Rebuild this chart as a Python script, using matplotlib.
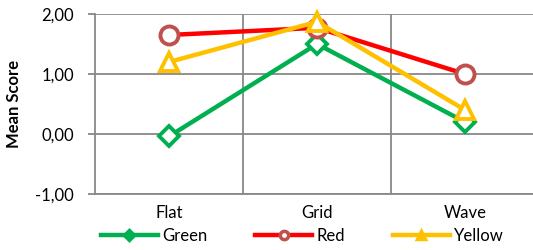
import numpy as np
import matplotlib.pyplot as plt
from matplotlib.lines import Line2D
from matplotlib.ticker import FuncFormatter

plt.rcParams['font.family'] = ['Lato', 'DejaVu Sans']

categories = ['Flat', 'Grid', 'Wave']
green = [-0.04, 1.50, 0.20]
red = [1.65, 1.77, 1.00]
yellow = [1.20, 1.87, 0.40]

fig = plt.figure(figsize=(5.33, 2.5), dpi=100)
ax = fig.add_axes([95 / 533, 56 / 250, 444 / 533, 180 / 250])

x = np.arange(len(categories))

series = [
    ('Green', green, '#00B050', '#00B050', 'D', 10),
    ('Red', red, '#FF0000', '#C0504D', 'o', 13),
    ('Yellow', yellow, '#FFC000', '#FFC000', '^', 13),
]

handles = []
for name, vals, lc, mc, mk, ms in series:
    ax.plot(x, vals, color=lc, lw=3.2, marker=mk, markersize=ms,
            markerfacecolor='white', markeredgecolor=mc, markeredgewidth=2.8,
            zorder=3, clip_on=False)
    handles.append(Line2D([], [], color=lc, lw=3.2, marker=mk,
                          markersize=5 if mk == 'D' else 6,
                          markerfacecolor='white' if mk == 'o' else mc,
                          markeredgecolor=mc, markeredgewidth=2.5))

ax.set_xlim(-0.5, 2.5)
ax.set_ylim(-1, 2)
ax.set_xticks(x)
ax.set_xticklabels(categories, fontsize=12)
ax.set_xticks([0.5, 1.5], minor=True)
ax.set_yticks([-1, 0, 1, 2])
ax.yaxis.set_major_formatter(FuncFormatter(lambda v, p: f'{v:.2f}'.replace('.', ',')))
ax.tick_params(axis='y', labelsize=12, length=5, width=1.3, color='#888888', pad=10)
ax.tick_params(axis='x', which='major', length=0, pad=8)
ax.tick_params(axis='x', which='minor', length=0)

ax.grid(axis='y', which='major', color='#888888', lw=1.3)
ax.grid(axis='x', which='minor', color='#888888', lw=1.3)
ax.set_axisbelow(True)
for s in ['top', 'right']:
    ax.spines[s].set_visible(False)
for s in ['left', 'bottom']:
    ax.spines[s].set_color('#888888')
    ax.spines[s].set_linewidth(1.3)

ax.set_ylabel('Mean Score', fontsize=12, fontweight='bold', labelpad=10)

fig.legend(handles, [s[0] for s in series], loc='lower left',
           bbox_to_anchor=(86 / 533, -0.035), ncol=3, frameon=False,
           fontsize=12, handlelength=3.4, handletextpad=0.25, columnspacing=2.9)

fig.savefig('out.png', dpi=100)
